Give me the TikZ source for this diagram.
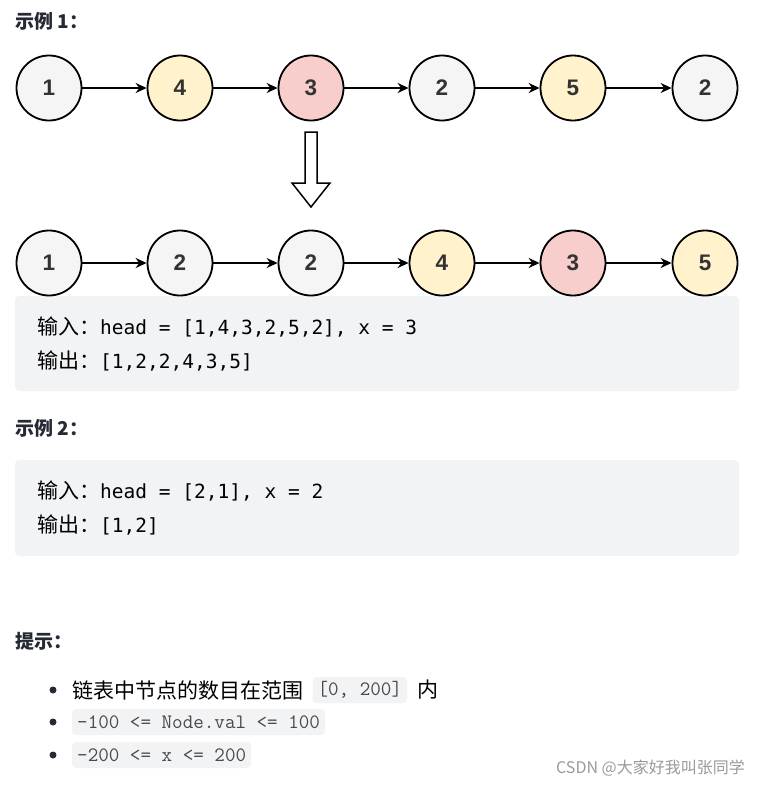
\documentclass[tikz,border=0pt]{standalone}
\usepackage{fontspec}
\setmainfont{Liberation Sans}
\newfontfamily\cjkfont{Noto Sans CJK SC}
\newfontfamily\codefont{DejaVu Sans Mono}
\usetikzlibrary{arrows.meta, positioning}
\definecolor{nodegrey}{HTML}{F5F5F5}
\definecolor{nodeyellow}{HTML}{FFF2CC}
\definecolor{nodered}{HTML}{F8CECC}
\definecolor{codebg}{HTML}{F2F3F5}
\definecolor{textdark}{HTML}{252933}
\definecolor{numdark}{HTML}{333333}
\definecolor{hintgrey}{HTML}{4A4A4A}
\definecolor{markgrey}{HTML}{9A9A9A}
\tikzset{
    listnode/.style={draw, circle, line width=1.8pt, minimum size=65pt, inner sep=0pt, text=numdark, font=\fontsize{22.5}{26}\selectfont\bfseries},
    link/.style={-{Stealth[length=11pt, width=10pt]}, line width=1.6pt},
    heading/.style={anchor=west, inner sep=0pt, text=textdark, font=\fontsize{19}{23}\selectfont\cjkfont\bfseries},
    codebox/.style={fill=codebg, rounded corners=4pt},
    codeline/.style={anchor=west, inner sep=0pt, text=black, font=\fontsize{19.5}{23}\selectfont\codefont},
    hinttext/.style={anchor=west, inner sep=0pt, text=black, font=\fontsize{21}{25}\selectfont\cjkfont},
    hintcode/.style={anchor=west, fill=codebg, rounded corners=4pt, inner xsep=5pt, minimum height=26pt, text=hintgrey, font=\fontsize{20.5}{23}\selectfont\ttfamily},
    bullet/.style={fill=textdark, circle, inner sep=0pt, minimum size=7pt},
}
\newcommand{\zh}[1]{{\fontsize{21}{23}\selectfont\cjkfont #1}}

\begin{document}
\begin{tikzpicture}[x=1pt, y=-1pt]
    \useasboundingbox (0,0) rectangle (761,785);

    \node[heading] (title1) at (15,21) {示例 1：};

    % before
    \node[listnode, fill=nodegrey]   (a1) at (49,88)  {1};
    \node[listnode, fill=nodeyellow] (a2) at (180,88) {4};
    \node[listnode, fill=nodered]    (a3) at (311,88) {3};
    \node[listnode, fill=nodegrey]   (a4) at (442,88) {2};
    \node[listnode, fill=nodeyellow] (a5) at (573,88) {5};
    \node[listnode, fill=nodegrey]   (a6) at (705,88) {2};
    \draw[link] (a1) -- (a2);
    \draw[link] (a2) -- (a3);
    \draw[link] (a3) -- (a4);
    \draw[link] (a4) -- (a5);
    \draw[link] (a5) -- (a6);

    \draw[line width=1.5pt, fill=white] (305,132) -- (317,132) -- (317,183) -- (330,183)
        -- (311,207) -- (292,183) -- (305,183) -- cycle;

    \fill[codebox] (15,296) rectangle (739,391);

    % after
    \node[listnode, fill=nodegrey]   (b1) at (49,263)  {1};
    \node[listnode, fill=nodegrey]   (b2) at (180,263) {2};
    \node[listnode, fill=nodegrey]   (b3) at (311,263) {2};
    \node[listnode, fill=nodeyellow] (b4) at (442,263) {4};
    \node[listnode, fill=nodered]    (b5) at (573,263) {3};
    \node[listnode, fill=nodeyellow] (b6) at (705,263) {5};
    \draw[link] (b1) -- (b2);
    \draw[link] (b2) -- (b3);
    \draw[link] (b3) -- (b4);
    \draw[link] (b4) -- (b5);
    \draw[link] (b5) -- (b6);

    \node[codeline] (in1)  at (37,327) {\zh{输入：}head = [1,4,3,2,5,2], x = 3};
    \node[codeline] (out1) at (37,361) {\zh{输出：}[1,2,2,4,3,5]};

    \node[heading] (title2) at (15,428) {示例 2：};
    \fill[codebox] (15,460) rectangle (739,556);
    \node[codeline] (in2)  at (37,491) {\zh{输入：}head = [2,1], x = 2};
    \node[codeline] (out2) at (37,525) {\zh{输出：}[1,2]};

    \node[heading] (title3) at (15,641) {提示：};
    \node[bullet] (dot1) at (53,690) {};
    \node[bullet] (dot2) at (53,722) {};
    \node[bullet] (dot3) at (53,755) {};
    \node[hinttext] (hint1) at (72,690) {链表中节点的数目在范围};
    \node[hintcode, right=9pt of hint1] (range) {[0, 200]};
    \node[hinttext, right=10pt of range] (inside) {内};
    \node[hintcode] (hint2) at (72,722) {-100 <= Node.val <= 100};
    \node[hintcode] (hint3) at (72,755) {-200 <= x <= 200};

    \node[anchor=east, inner sep=0pt, text=markgrey, font=\fontsize{16}{19}\selectfont\cjkfont] (mark) at (745,768) {CSDN @大家好我叫张同学};
\end{tikzpicture}
\end{document}
